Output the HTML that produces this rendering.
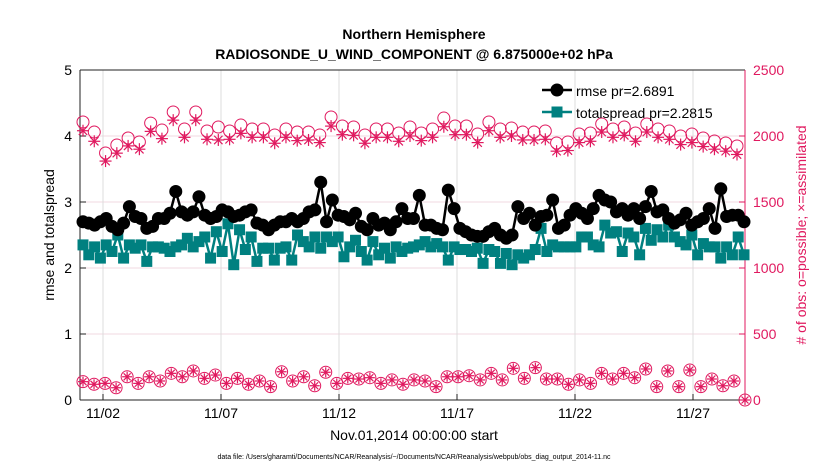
<!DOCTYPE html>
<html><head><meta charset="utf-8"><style>
body{margin:0;background:#fff;}
svg{display:block;font-family:"Liberation Sans",sans-serif;}
</style></head><body>
<svg id="chart" width="830" height="470" viewBox="0 0 830 470">
<text x="414" y="39" text-anchor="middle" font-size="14" font-weight="bold">Northern Hemisphere</text>
<text x="414" y="59" text-anchor="middle" font-size="14" font-weight="bold">RADIOSONDE_U_WIND_COMPONENT @ 6.875000e+02 hPa</text>
<text x="414" y="440" text-anchor="middle" font-size="14">Nov.01,2014 00:00:00 start</text>
<text x="414" y="459" text-anchor="middle" font-size="7">data file: /Users/gharamti/Documents/NCAR/Reanalysis/~/Documents/NCAR/Reanalysis/webpub/obs_diag_output_2014-11.nc</text>
<text transform="translate(54,235) rotate(-90)" text-anchor="middle" font-size="14">rmse and totalspread</text>
<text transform="translate(806,235) rotate(-90)" text-anchor="middle" font-size="14" fill="#e0195f"># of obs: o=possible; ×=assimilated</text>
<g id="grid"></g><g id="axes"></g><g id="marks"></g>
<g>
<line x1="542" y1="90" x2="572" y2="90" stroke="#000" stroke-width="2.5"/>
<circle cx="557" cy="90" r="6.5" fill="#000"/>
<text x="576" y="96" font-size="14">rmse pr=2.6891</text>
<line x1="542" y1="112" x2="572" y2="112" stroke="#008080" stroke-width="2.5"/>
<rect x="551.5" y="106.5" width="11" height="11" fill="#008080"/>
<text x="576" y="118" font-size="14">totalspread pr=2.2815</text>
</g>
</svg>
<script>
const rmse=[2.70,2.68,2.65,2.70,2.75,2.63,2.58,2.68,2.93,2.78,2.75,2.60,2.63,2.75,2.75,2.83,3.16,2.85,2.80,
2.85,3.08,2.80,2.75,2.78,2.88,2.85,2.78,2.80,2.85,2.88,2.68,2.65,2.58,2.65,2.70,2.70,2.75,2.70,
2.75,2.85,2.88,3.30,2.70,3.03,2.80,2.78,2.73,2.83,2.63,2.58,2.75,2.65,2.68,2.58,2.70,2.90,2.75,
2.75,3.10,2.65,2.65,2.60,2.58,3.18,2.90,2.60,2.55,2.50,2.48,2.48,2.55,2.60,2.50,2.45,2.50,2.93,
2.75,2.83,2.65,2.78,2.80,3.03,2.60,2.65,2.80,2.90,2.83,2.75,2.90,3.10,3.03,3.00,2.85,2.90,2.80,
2.90,2.75,2.93,3.16,2.85,2.88,2.75,2.68,2.73,2.83,2.65,2.70,2.75,2.90,2.60,3.20,2.78,2.80,2.80,2.70];
const spread=[2.35,2.20,2.32,2.15,2.35,2.25,2.50,2.15,2.35,2.30,2.35,2.10,2.32,2.32,2.30,2.25,2.32,2.35,2.45,
2.32,2.40,2.47,2.15,2.55,2.25,2.67,2.05,2.58,2.28,2.47,2.10,2.30,2.30,2.12,2.30,2.32,2.12,2.50,
2.40,2.32,2.47,2.30,2.47,2.40,2.47,2.17,2.32,2.42,2.25,2.12,2.40,2.20,2.30,2.15,2.32,2.25,2.30,
2.32,2.35,2.40,2.32,2.37,2.32,2.12,2.32,2.28,2.28,2.25,2.30,2.07,2.28,2.25,2.07,2.22,2.05,2.20,
2.15,2.20,2.28,2.60,2.25,2.35,2.32,2.32,2.32,2.32,2.47,2.47,2.35,2.32,2.65,2.53,2.55,2.25,2.53,
2.47,2.20,2.60,2.42,2.58,2.47,2.65,2.47,2.40,2.35,2.50,2.20,2.37,2.32,2.32,2.15,2.32,2.20,2.47,2.20];
const possibleTop=[2106,2030,1871,1932,1985,1955,2098,2045,2182,2053,2182,2038,2068,2038,2083,2053,2053,2008,2053,2030,
2030,2008,2144,2076,2068,2008,2053,2053,2023,2068,2023,2053,2136,2076,2076,2015,2106,2053,2061,2030,
2030,2038,1947,1955,2015,2023,2091,2053,2068,2023,2091,2053,2038,2000,2015,1985,1962,1947,1924];
const assimTop=[2040,1960,1810,1870,1925,1900,2035,1980,2120,1990,2120,1975,1970,1975,2020,1990,1990,1945,1990,1965,
1970,1950,2075,2010,2005,1945,1990,1990,1960,2000,1965,1990,2070,2010,2010,1950,2040,1990,2000,1970,
1970,1975,1885,1890,1950,1960,2030,1990,2005,1960,2030,1990,1975,1935,1950,1920,1900,1885,1860];
const possibleLow=[139,119,126,93,176,126,176,144,202,176,220,164,189,126,164,119,144,101,214,144,176,108,210,126,164,159,169,126,152,119,152,
144,101,176,176,184,152,202,152,240,164,245,159,159,119,152,126,202,159,202,169,235,101,220,101,227,101,159,108,144,0];
const assimLow=[139,119,126,93,176,126,176,144,202,176,220,164,189,126,164,119,144,101,214,144,176,108,210,126,164,159,169,126,152,119,152,
144,101,176,176,184,152,202,152,240,164,245,159,159,119,152,126,202,159,202,169,235,101,220,101,227,101,159,108,144,0];
const leftTicks=[0,1,2,3,4,5];
const rightTicks=[0,500,1000,1500,2000,2500];
const xTickDays=[1,6,11,16,21,26];
const xTickLabels=["11/02","11/07","11/12","11/17","11/22","11/27"];

const L=80,R=745,T=70,B=400,MAG="#e0195f",TEAL="#008080";
const NS="http://www.w3.org/2000/svg";
const X0=83,XEND=745;
function xi(i,n,xEnd){return X0+i*(xEnd-X0)/(n-1);}
function xDay(d){return 79.4+d*23.6;}
function yl(v){return B-(v/5)*(B-T);}
function yr(v){return B-(v/2500)*(B-T);}
function mk(tag,attrs,parent){const e=document.createElementNS(NS,tag);for(const k in attrs)e.setAttribute(k,attrs[k]);parent.appendChild(e);return e;}
const grid=document.getElementById('grid'),axes=document.getElementById('axes'),marks=document.getElementById('marks');

leftTicks.forEach(v=>{
  const y=yl(v);
  if(v>0&&v<5){const g=mk('line',{x1:L,x2:R,y1:y,y2:y,stroke:'#f1d9e2','stroke-width':1},grid);
  
  }
  mk('line',{x1:L,x2:L+6,y1:y,y2:y,stroke:'#222'},axes);
  const t=mk('text',{x:L-8,y:y+5,'text-anchor':'end','font-size':14},axes);
  t.textContent=v;
  
  
});
rightTicks.forEach(v=>{
  const y=yr(v);
  mk('line',{x1:R-6,x2:R,y1:y,y2:y,stroke:MAG},axes);
  const t=mk('text',{x:R+8,y:y+5,'font-size':14,fill:MAG},axes);
  t.textContent=v;
  
  
});
xTickDays.forEach((d,k)=>{
  const x=xDay(d);
  const g=mk('line',{x1:x,x2:x,y1:T,y2:B,stroke:'#dcdcdc'},grid);
  
  
  mk('line',{x1:x,x2:x,y1:B-6,y2:B,stroke:'#222'},axes);
  const t=mk('text',{x:x,y:B+18,'text-anchor':'middle','font-size':14},axes);
  t.textContent=xTickLabels[k];
  
  
});
mk('line',{x1:L,x2:L,y1:T,y2:B,stroke:'#222'},axes);
mk('line',{x1:L,x2:R,y1:B,y2:B,stroke:'#222'},axes);
mk('line',{x1:L,x2:R,y1:T,y2:T,stroke:'#222'},axes);
mk('line',{x1:R,x2:R,y1:T,y2:B,stroke:MAG},axes);

function star(x,y,s,parent,name){
  const g=mk('g',{stroke:MAG,'stroke-width':1.2},parent);
  
  
  mk('line',{x1:x-s,x2:x+s,y1:y,y2:y},g);
  mk('line',{x1:x,x2:x,y1:y-s,y2:y+s},g);
  mk('line',{x1:x-s*0.7,x2:x+s*0.7,y1:y-s*0.7,y2:y+s*0.7},g);
  mk('line',{x1:x-s*0.7,x2:x+s*0.7,y1:y+s*0.7,y2:y-s*0.7},g);
}
possibleTop.forEach((v,i)=>{
  const c=mk('circle',{cx:xi(i,possibleTop.length,737),cy:yr(v),r:6,fill:'none',stroke:MAG,'stroke-width':1},marks);
  
  
});
assimTop.forEach((v,i)=>star(xi(i,assimTop.length,737),yr(v),6,marks,'assimilated-obs-point'));
possibleLow.forEach((v,i)=>{
  const c=mk('circle',{cx:xi(i,possibleLow.length,XEND),cy:yr(v),r:6,fill:'none',stroke:MAG,'stroke-width':1},marks);
  
  
});
assimLow.forEach((v,i)=>star(xi(i,assimLow.length,XEND),yr(v),5,marks,'assimilated-obs-low-point'));

function series(arr,color,name){
  const p=mk('polyline',{points:arr.map((v,i)=>xi(i,arr.length,744)+','+yl(v)).join(' '),fill:'none',stroke:color,'stroke-width':2.5},marks);
  
  
}
series(spread,TEAL,'totalspread');
spread.forEach((v,i)=>{
  const r=mk('rect',{x:xi(i,spread.length,744)-5.5,y:yl(v)-5.5,width:11,height:11,fill:TEAL},marks);
  
  
});
series(rmse,'#000','rmse');
rmse.forEach((v,i)=>{
  const c=mk('circle',{cx:xi(i,rmse.length,744),cy:yl(v),r:6.5,fill:'#000'},marks);
  
  
});
</script>
</body></html>
